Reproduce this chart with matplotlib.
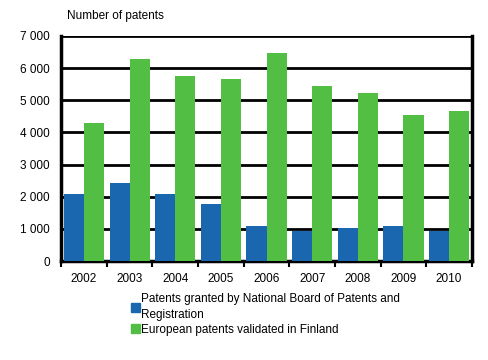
import numpy as np
import matplotlib.pyplot as plt
from matplotlib.patches import Patch

years = ['2002', '2003', '2004', '2005', '2006', '2007', '2008', '2009', '2010']
national = [2080, 2440, 2080, 1775, 1090, 945, 1030, 1090, 945]
european = [4290, 6285, 5755, 5660, 6480, 5450, 5220, 4540, 4660]
labels = ['Patents granted by National Board of Patents and\nRegistration',
          'European patents validated in Finland']

plt.rcParams['font.family'] = ['Liberation Sans', 'DejaVu Sans']
blue = '#1a67b0'
green = '#52be44'
fs = 8.5

fig = plt.figure(figsize=(4.89, 3.6), dpi=100)
ax = fig.add_axes([0.125, 0.275, 0.84, 0.625])

x = np.arange(len(years))
w = 0.44
ax.bar(x - w / 2, national, w, color=blue, zorder=3)
ax.bar(x + w / 2, european, w, color=green, zorder=3)

ax.set_xlim(-0.5, len(years) - 0.5)
ax.set_ylim(0, 7000)
ax.set_yticks(range(0, 7001, 1000))
ax.set_yticklabels([f'{v:,}'.replace(',', ' ') for v in range(0, 7001, 1000)])
ax.set_xticks(x)
ax.set_xticklabels(years)
ax.set_xticks(np.arange(-0.5, len(years)), minor=True)
ax.tick_params(axis='x', which='major', length=0, pad=9, labelsize=fs)
ax.tick_params(axis='x', which='minor', length=4, width=1.5, direction='out')
ax.tick_params(axis='y', length=0, pad=8, labelsize=fs)
ax.grid(axis='y', color='black', linewidth=2, zorder=0)

for s in ['left', 'right', 'bottom']:
    ax.spines[s].set_linewidth(2.5)
ax.spines['top'].set_visible(False)

fig.text(0.137, 0.955, 'Number of patents', fontsize=fs, va='center')

handles = [Patch(color=blue), Patch(color=green)]
leg = fig.legend(handles, labels, loc='upper left', bbox_to_anchor=(0.268, 0.185),
                 frameon=False, fontsize=fs, handlelength=0.75, handleheight=0.75,
                 handletextpad=0.1, labelspacing=0.25, borderaxespad=0, borderpad=0)
for t in leg.get_texts():
    t.set_linespacing(1.35)

fig.savefig('out.png', dpi=100)
